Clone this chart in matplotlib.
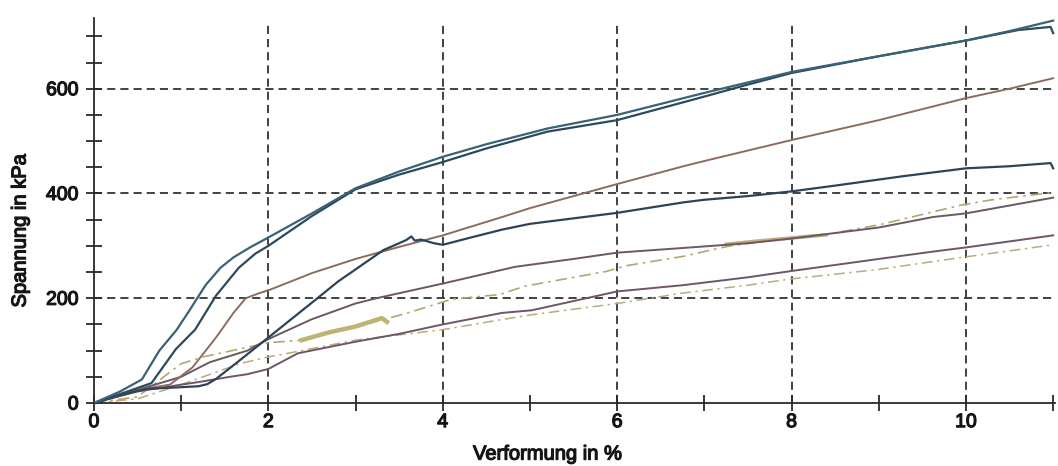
import matplotlib
matplotlib.use("Agg")
import matplotlib.pyplot as plt
import matplotlib.patheffects as pe
from matplotlib.ticker import MultipleLocator

plt.rcParams['font.family'] = ['Liberation Sans', 'DejaVu Sans']

# Verformung in % / Spannung in kPa
a_x = [0, 0.3, 0.55, 0.75, 0.95, 1.1, 1.28, 1.45, 1.6, 1.8, 2.0, 2.5, 3.0, 3.5, 4.0, 4.5, 5.2, 6.0, 7.0, 8.0, 9.0, 10.0, 10.5, 11.0]
a_y = [0, 22, 45, 100, 140, 178, 225, 258, 278, 298, 316, 362, 410, 442, 470, 494, 524, 550, 592, 632, 662, 692, 710, 730]

b_x = [0, 0.35, 0.66, 0.94, 1.16, 1.4, 1.66, 1.85, 2.0, 2.5, 3.0, 3.5, 4.0, 4.5, 5.2, 6.0, 7.0, 7.5, 8.0, 9.0, 10.0, 10.6, 10.97, 11.0]
b_y = [0, 20, 38, 103, 140, 205, 258, 285, 300, 357, 408, 436, 460, 486, 518, 540, 585, 608, 630, 662, 692, 712, 718, 706]

c_x = [0, 0.4, 0.87, 1.13, 1.4, 1.6, 1.74, 1.9, 2.0, 2.5, 3.0, 3.5, 4.0, 4.68, 5.0, 6.0, 6.76, 7.0, 8.0, 9.0, 10.0, 10.5, 11.0]
c_y = [0, 22, 35, 68, 125, 172, 200, 210, 215, 248, 275, 298, 320, 355, 372, 418, 452, 462, 502, 540, 582, 600, 620]

d_x = [0, 0.3, 0.6, 0.98, 1.2, 1.3, 1.4, 1.6, 2.0, 2.3, 2.54, 2.8, 3.0, 3.32, 3.5, 3.58, 3.64, 3.68, 3.75, 3.9, 4.0, 4.3, 4.68, 5.0, 6.0, 6.76, 7.0, 7.5, 8.0, 8.5, 9.28, 10.0, 10.5, 10.97, 11.0]
d_y = [0, 15, 27, 30, 32, 36, 46, 72, 125, 165, 197, 232, 255, 292, 305, 311, 318, 310, 312, 305, 302, 315, 331, 342, 363, 383, 388, 395, 404, 415, 433, 448, 452, 458, 448]

e_x = [0, 0.5, 1.0, 1.33, 1.76, 2.0, 2.5, 3.0, 3.24, 4.0, 4.83, 5.5, 6.0, 6.76, 7.5, 8.0, 9.0, 9.62, 10.0, 11.0]
e_y = [0, 25, 50, 78, 100, 122, 160, 190, 200, 228, 260, 275, 287, 296, 305, 314, 335, 355, 362, 392]

f_x = [0, 0.5, 1.0, 1.2, 1.56, 1.76, 2.0, 2.34, 3.0, 3.5, 4.0, 4.68, 5.02, 6.0, 6.76, 7.5, 8.0, 9.0, 9.62, 10.0, 11.0]
f_y = [0, 22, 35, 40, 50, 55, 65, 95, 117, 132, 150, 172, 177, 213, 225, 240, 252, 275, 289, 297, 320]

g_x = [0, 0.5, 1.0, 1.25, 2.0, 2.38, 3.34, 3.6, 4.1, 4.65, 4.94, 5.87, 6.1, 6.76, 7.1, 7.3, 8.0, 8.4, 9.0, 9.95, 10.3, 10.8, 11.0]
g_y = [0, 12, 75, 88, 115, 120, 160, 172, 198, 207, 223, 251, 262, 280, 293, 300, 316, 322, 340, 378, 388, 398, 402]

# heavy olive stretches of the same test
g2_x = [2.38, 2.7, 3.0, 3.3, 3.36]
g2_y = [120, 135, 146, 162, 155]
g3_x = [7.25, 7.6, 8.0, 8.4]
g3_y = [303, 309, 315, 321]

h_x = [0, 0.5, 1.0, 1.67, 2.0, 2.26, 3.0, 4.0, 4.56, 5.0, 6.0, 6.76, 7.5, 8.0, 9.0, 9.62, 10.0, 11.0]
h_y = [0, 8, 35, 75, 88, 96, 120, 140, 156, 168, 190, 210, 225, 237, 255, 270, 279, 302]

fig = plt.figure(figsize=(10.58, 4.66), dpi=100)
ax = fig.add_axes([0.0888, 0.1352, 0.9083, 0.8262])

# grid first so the curves sit on top
for gx in [2, 4, 6, 8, 10]:
    ax.plot([gx, gx], [0, 728], color='#333333', lw=1.3, ls=(0, (4.5, 2.8)), zorder=1)
for gy in [200, 400, 600]:
    ax.plot([0, 11.02], [gy, gy], color='#333333', lw=1.3, ls=(0, (4.5, 2.8)), zorder=1)

ax.plot(h_x, h_y, color='#b9ab7a', lw=1.1, ls=(0, (7, 3, 1.5, 3)), zorder=2)
ax.plot(g_x, g_y, color='#b3a66c', lw=1.2, ls=(0, (7, 3, 1.5, 3)), zorder=2)
ax.plot(g2_x, g2_y, color='#bdb472', lw=3.2, zorder=2)
ax.plot(g3_x, g3_y, color='#c2ad7c', lw=2.6, zorder=2)
ax.plot(f_x, f_y, color='#6f5568', lw=1.4, zorder=3)
ax.plot(e_x, e_y, color='#6d5762', lw=1.4, zorder=3)
ax.plot(c_x, c_y, color='#8c6c5e', lw=1.4, zorder=3)
ax.plot(d_x, d_y, color='#2e4358', lw=1.6, zorder=4)
ax.plot(b_x, b_y, color='#2c4a5c', lw=1.6, zorder=4)
ax.plot(a_x, a_y, color='#3a6275', lw=1.6, zorder=4)

ax.set_xlim(0, 11.02)
ax.set_ylim(0, 735)

for s in ['top', 'right']:
    ax.spines[s].set_visible(False)
for s in ['left', 'bottom']:
    ax.spines[s].set_color('#2a2a2a')
    ax.spines[s].set_linewidth(1.3)

ax.xaxis.set_major_locator(MultipleLocator(2))
ax.xaxis.set_minor_locator(MultipleLocator(1))
ax.yaxis.set_major_locator(MultipleLocator(200))
ax.yaxis.set_minor_locator(MultipleLocator(50))
ax.tick_params(which='both', direction='inout', length=12, width=1.3, color='#2a2a2a')
ax.tick_params(axis='x', which='major', labelsize=14, pad=2)
ax.tick_params(axis='y', which='major', labelsize=14, pad=5)

ax.set_xlabel('Verformung in %', fontsize=14.5)
ax.set_ylabel('Spannung in kPa', fontsize=14.5)
ax.xaxis.set_label_coords(0.472, -0.108)
ax.yaxis.set_label_coords(-0.067, 0.447)

# the scanned text is heavy, thicken it a bit
bold = [pe.withStroke(linewidth=0.9, foreground='#151515')]
for t in ax.get_xticklabels() + ax.get_yticklabels() + [ax.xaxis.label, ax.yaxis.label]:
    t.set_color('#151515')
    t.set_path_effects(bold)

fig.savefig('out.png', dpi=100)
